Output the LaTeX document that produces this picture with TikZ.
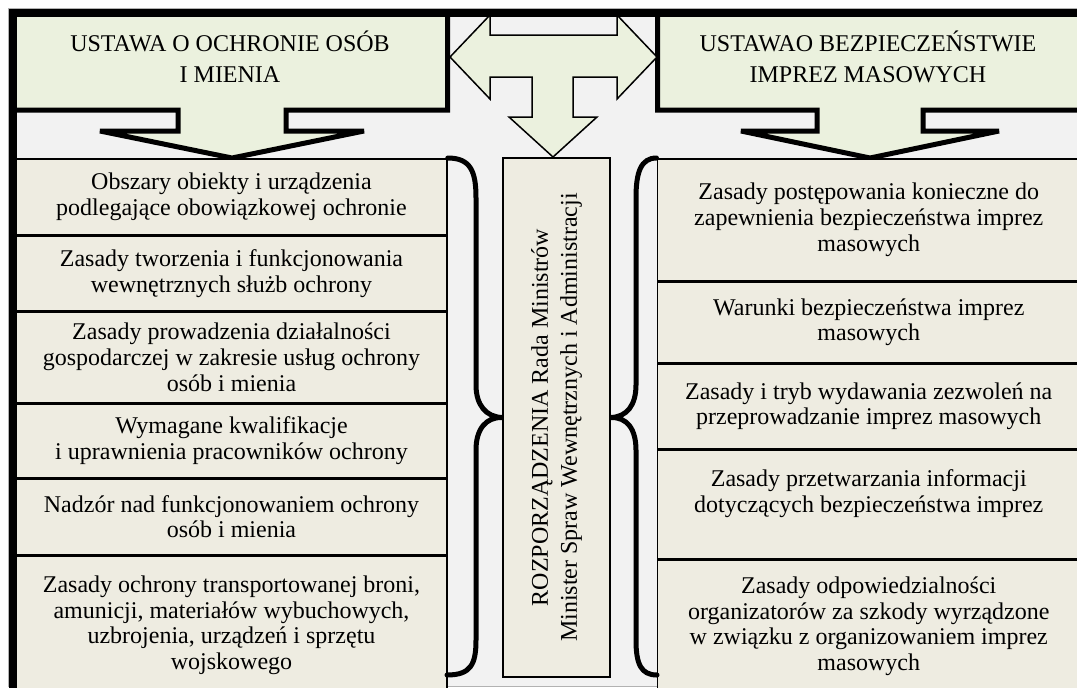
\documentclass[tikz,border=0pt]{standalone}
\usepackage{fontspec}
\setmainfont{Liberation Serif}
\usepackage{xcolor}
\usepackage{tikz}
\usetikzlibrary{positioning}

\definecolor{actgreen}{HTML}{EBF1DE}
\definecolor{rulebeige}{HTML}{EEECE1}
\definecolor{panelgray}{HTML}{F2F2F2}

\begin{document}
\begin{tikzpicture}[x=0.5pt, y=-0.5pt,
    block/.style={draw, rectangle, fill=rulebeige, line width=0.75pt, align=center, inner sep=2pt, font=\fontsize{12}{12.9}\selectfont},
    lblock/.style={block, minimum width=215.5pt},
    rblock/.style={block, minimum width=211.5pt},
    head/.style={align=center, font=\fontsize{12}{15.5}\selectfont},
    callout/.style={draw, fill=actgreen, line width=2.5pt, miter limit=2},
    brace/.style={line width=2.5pt, line cap=round}]
    \useasboundingbox (0,0) rectangle (1077,687);
    \clip (0,0) rectangle (1077,687);
    \filldraw[fill=panelgray, draw=black!30, line width=0.5pt] (8,8) rectangle (1090,686);

    % Callouts
    \draw[callout] (12.5,12.5) -- (447.5,12.5) -- (447.5,110) -- (286,110) -- (286,131) -- (364,131) -- (232,158) -- (100,131) -- (178,131) -- (178,110) -- (12.5,110) -- cycle;
    \draw[callout] (657.5,12.5) -- (1095,12.5) -- (1095,110) -- (923,110) -- (923,131) -- (999,131) -- (870,158) -- (741,131) -- (817,131) -- (817,110) -- (657.5,110) -- cycle;
    \draw[fill=actgreen, line width=0.75pt] (450,57) -- (490,15) -- (490,35) -- (617,35) -- (617,15) -- (657,57) -- (617,99) -- (617,77) -- (573,77) -- (573,117) -- (597,117) -- (553,157) -- (509,117) -- (532,117) -- (532,77) -- (490,77) -- (490,99) -- cycle;

    % Nodes
    \node[lblock, minimum height=38pt, anchor=north] (lblock1) at (231.5,158) {Obszary obiekty i urządzenia\\podlegające obowiązkowej ochronie};
    \node[lblock, minimum height=37pt, below=0pt of lblock1] (lblock2) {Zasady tworzenia i funkcjonowania\\wewnętrznych służb ochrony};
    \node[lblock, minimum height=45.5pt, below=0pt of lblock2] (lblock3) {Zasady prowadzenia działalności\\gospodarczej w zakresie usług ochrony\\osób i mienia};
    \node[lblock, minimum height=36.5pt, below=0pt of lblock3] (lblock4) {Wymagane kwalifikacje\\i uprawnienia pracowników ochrony};
    \node[lblock, minimum height=38pt, below=0pt of lblock4] (lblock5) {Nadzór nad funkcjonowaniem ochrony\\osób i mienia};
    \node[lblock, minimum height=69pt, below=0pt of lblock5] (lblock6) {Zasady ochrony transportowanej broni,\\amunicji, materiałów wybuchowych,\\uzbrojenia, urządzeń i sprzętu\\wojskowego};

    \node[rblock, minimum height=61pt, anchor=north] (rblock1) at (868.75,158) {Zasady postępowania konieczne do\\zapewnienia bezpieczeństwa imprez\\masowych};
    \node[rblock, minimum height=40pt, below=0pt of rblock1] (rblock2) {Warunki bezpieczeństwa imprez\\masowych};
    \node[rblock, minimum height=42.5pt, below=0pt of rblock2] (rblock3) {Zasady i tryb wydawania zezwoleń na\\przeprowadzanie imprez masowych};
    \node[rblock, minimum height=54pt, below=0pt of rblock3] (rblock4) {Zasady przetwarzania informacji\\dotyczących bezpieczeństwa imprez\\\mbox{}};
    \node[rblock, minimum height=66.5pt, below=0pt of rblock4] (rblock5) {Zasady odpowiedzialności\\organizatorów za szkody wyrządzone\\w związku z organizowaniem imprez\\masowych};

    \node[block, rotate=90, minimum width=259.5pt, minimum height=53.5pt, font=\fontsize{12}{14.5}\selectfont] (mblock) at (556.5,417.5) {ROZPORZĄDZENIA Rada Ministrów\\Minister Spraw Wewnętrznych i Administracji};

    % Braces
    \draw[brace] (lblock1.north east) .. controls (471,158) and (476,172) .. (476,198) -- (476,385)
        .. controls (476,405) and (486,417) .. (mblock.north) .. controls (486,417) and (476,429) .. (476,450)
        -- (476,640) .. controls (476,664) and (471,675) .. (447,675);
    \draw[brace] (rblock1.north west) .. controls (641,158) and (636,172) .. (636,198) -- (636,385)
        .. controls (636,405) and (627,417) .. (mblock.south) .. controls (627,417) and (636,429) .. (636,450)
        -- (636,640) .. controls (636,664) and (641,675) .. (657,675);

    % Frame
    \draw[line width=4pt] (12.75,700) -- (12.75,12.75) -- (1095,12.75);

    \node[head] (lhead) at (230,57) {USTAWA O OCHRONIE OSÓB\\I MIENIA};
    \node[head] (rhead) at (868,57) {USTAWAO BEZPIECZEŃSTWIE\\IMPREZ MASOWYCH};
\end{tikzpicture}
\end{document}
